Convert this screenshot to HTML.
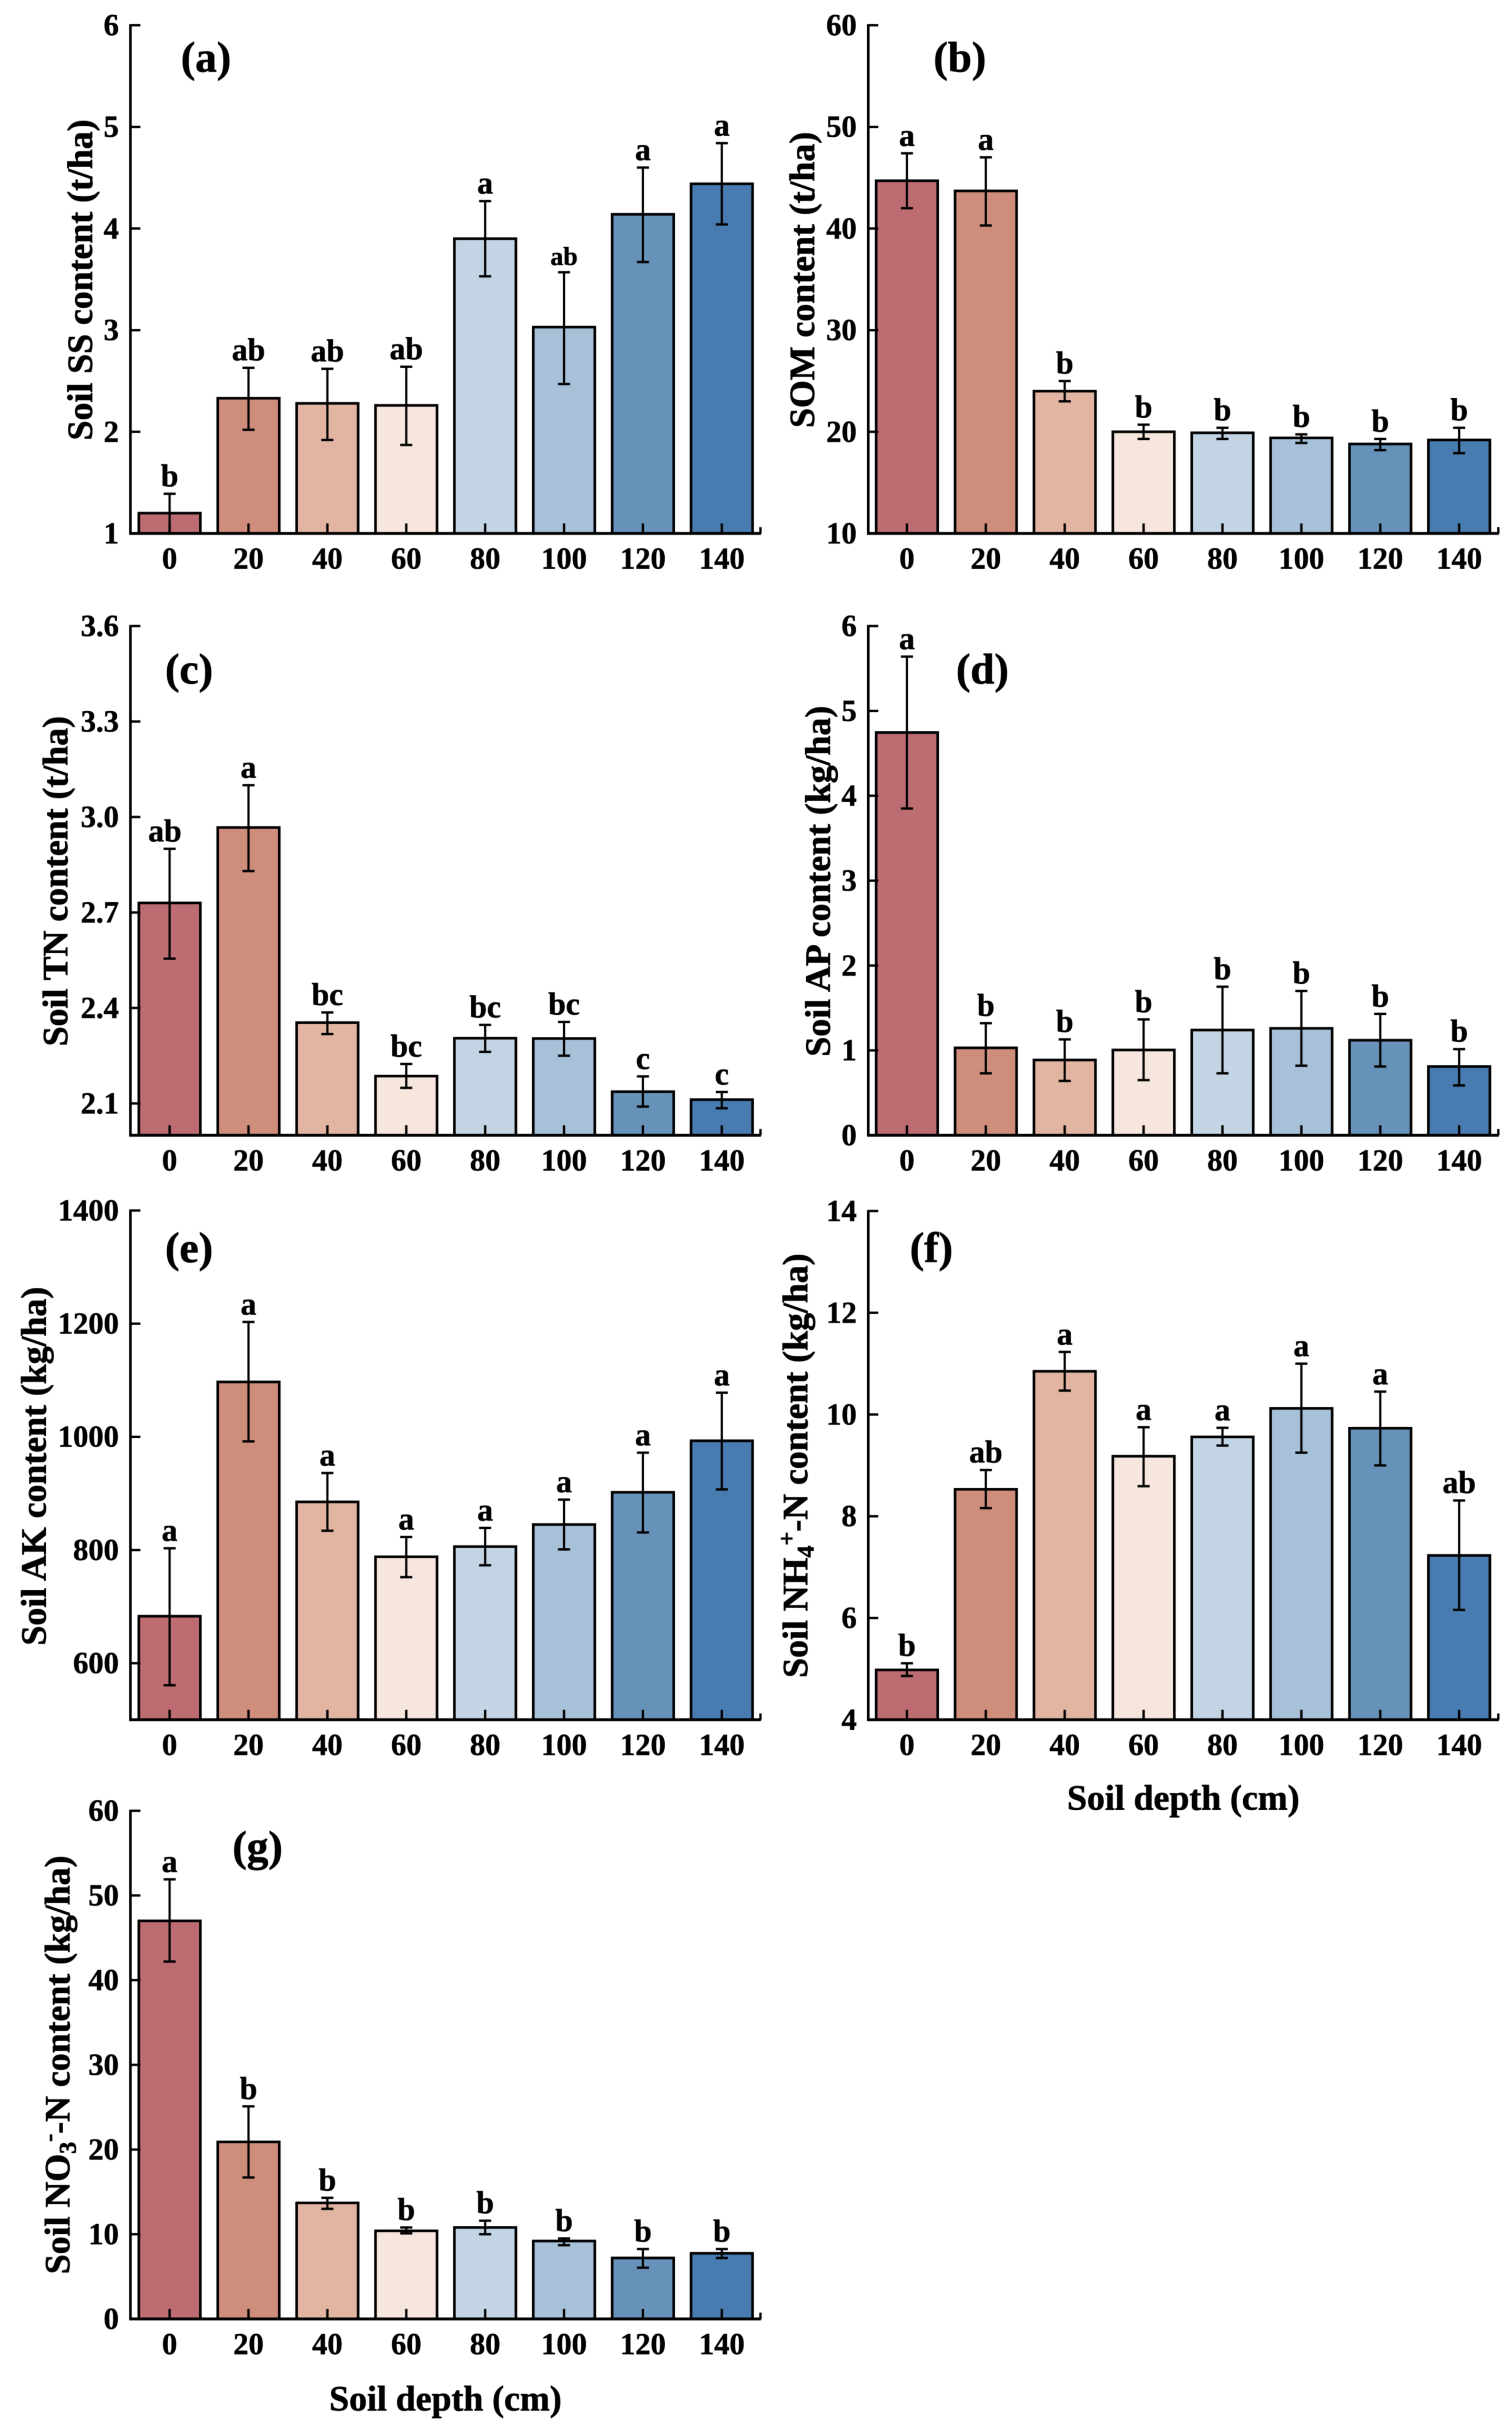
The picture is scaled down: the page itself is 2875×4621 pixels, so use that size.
<!DOCTYPE html>
<html lang="en">
<head>
<meta charset="utf-8">
<title>Soil properties by depth</title>
<style>
html,body{margin:0;padding:0;background:#fff;}
svg{display:block;filter:blur(0.6px);}
text{font-family:"Liberation Serif",serif;font-weight:bold;fill:#000;stroke:#000;stroke-width:0.8px;}
.axis-title{font-size:68px;text-anchor:middle;stroke-width:1px;}
.panel-label{font-size:82px;stroke-width:1px;}
</style>
</head>
<body>
<svg id="figure" xmlns="http://www.w3.org/2000/svg" width="2875" height="4621" viewBox="0 0 2875 4621">
  <rect x="0" y="0" width="2875" height="4621" fill="#fff"/>
  <g id="panel-a"></g>
  <g id="panel-b"></g>
  <g id="panel-c"></g>
  <g id="panel-d"></g>
  <g id="panel-e"></g>
  <g id="panel-f"></g>
  <g id="panel-g"></g>

  <text class="axis-title" transform="rotate(-90 175 532)" x="175" y="532">Soil SS content (t/ha)</text>
  <text class="axis-title" transform="rotate(-90 1548 532)" x="1548" y="532">SOM content (t/ha)</text>
  <text class="axis-title" transform="rotate(-90 128 1675)" x="128" y="1675">Soil TN content (t/ha)</text>
  <text class="axis-title" transform="rotate(-90 1578 1675)" x="1578" y="1675">Soil AP content (kg/ha)</text>
  <text class="axis-title" transform="rotate(-90 87 2787)" x="87" y="2787">Soil AK content (kg/ha)</text>
  <text class="axis-title" transform="rotate(-90 1535 2786)" x="1535" y="2786">Soil NH<tspan dy="12" font-size="46">4</tspan><tspan dy="-36" font-size="46">+</tspan><tspan dy="24">-N content (kg/ha)</tspan></text>
  <text class="axis-title" transform="rotate(-90 132 3925)" x="132" y="3925">Soil NO<tspan dy="12" font-size="46">3</tspan><tspan dy="-36" font-size="46">-</tspan><tspan dy="24">-N content (kg/ha)</tspan></text>

  <text class="axis-title" x="2250" y="3440">Soil depth (cm)</text>
  <text class="axis-title" x="847" y="4582">Soil depth (cm)</text>

  <text class="panel-label" x="344" y="136">(a)</text>
  <text class="panel-label" x="1775" y="136">(b)</text>
  <text class="panel-label" x="314" y="1299">(c)</text>
  <text class="panel-label" x="1818" y="1299">(d)</text>
  <text class="panel-label" x="314" y="2399">(e)</text>
  <text class="panel-label" x="1730" y="2399">(f)</text>
  <text class="panel-label" x="442" y="3537">(g)</text>
</svg>
<script>
// Categories shared by all panels
const depthCategories = ['0', '20', '40', '60', '80', '100', '120', '140'];

// Panel (a) Soil SS
const ssValues = [1.2, 2.33, 2.28, 2.26, 3.9, 3.03, 4.14, 4.44];
const ssUpper = [1.39, 2.63, 2.62, 2.64, 4.27, 3.57, 4.6, 4.84];
const ssLower = [1.0, 2.02, 1.92, 1.87, 3.53, 2.47, 3.67, 4.04];
const ssLetters = ['b', 'ab', 'ab', 'ab', 'a', 'ab', 'a', 'a'];
const ssTicks = [1, 2, 3, 4, 5, 6];
const ssTickLabels = ['1', '2', '3', '4', '5', '6'];

// Panel (b) SOM
const somValues = [44.7, 43.7, 24.0, 20.0, 19.9, 19.4, 18.8, 19.2];
const somUpper = [47.4, 47.0, 25.0, 20.7, 20.4, 19.75, 19.3, 20.4];
const somLower = [42.0, 40.3, 23.0, 19.3, 19.3, 18.9, 18.2, 17.9];
const somLetters = ['a', 'a', 'b', 'b', 'b', 'b', 'b', 'b'];
const somTicks = [10, 20, 30, 40, 50, 60];
const somTickLabels = ['10', '20', '30', '40', '50', '60'];

// Panel (c) Soil TN
const tnValues = [2.73, 2.967, 2.354, 2.186, 2.305, 2.304, 2.137, 2.112];
const tnUpper = [2.9, 3.1, 2.386, 2.224, 2.347, 2.356, 2.185, 2.136];
const tnLower = [2.555, 2.83, 2.318, 2.149, 2.262, 2.25, 2.09, 2.085];
const tnLetters = ['ab', 'a', 'bc', 'bc', 'bc', 'bc', 'c', 'c'];
const tnTicks = [2.1, 2.4, 2.7, 3.0, 3.3, 3.6];
const tnTickLabels = ['2.1', '2.4', '2.7', '3.0', '3.3', '3.6'];

// Panel (d) Soil AP
const apValues = [4.745, 1.03, 0.887, 1.005, 1.24, 1.26, 1.12, 0.81];
const apUpper = [5.64, 1.32, 1.13, 1.365, 1.75, 1.7, 1.43, 1.015];
const apLower = [3.85, 0.73, 0.64, 0.65, 0.73, 0.82, 0.81, 0.587];
const apLetters = ['a', 'b', 'b', 'b', 'b', 'b', 'b', 'b'];
const apTicks = [0, 1, 2, 3, 4, 5, 6];
const apTickLabels = ['0', '1', '2', '3', '4', '5', '6'];

// Panel (e) Soil AK
const akValues = [683, 1097, 885, 788, 806, 845, 902, 993];
const akUpper = [803, 1203, 936, 823, 839, 889, 972, 1078];
const akLower = [561, 992, 834, 752, 773, 801, 831, 907];
const akLetters = ['a', 'a', 'a', 'a', 'a', 'a', 'a', 'a'];
const akTicks = [600, 800, 1000, 1200, 1400];
const akTickLabels = ['600', '800', '1000', '1200', '1400'];

// Panel (f) Soil NH4+-N
const nhValues = [4.98, 8.53, 10.85, 9.18, 9.56, 10.12, 9.73, 7.23];
const nhUpper = [5.11, 8.91, 11.23, 9.75, 9.74, 11.0, 10.45, 8.31];
const nhLower = [4.86, 8.16, 10.47, 8.59, 9.39, 9.25, 9.0, 6.16];
const nhLetters = ['b', 'ab', 'a', 'a', 'a', 'a', 'a', 'ab'];
const nhTicks = [4, 6, 8, 10, 12, 14];
const nhTickLabels = ['4', '6', '8', '10', '12', '14'];

// Panel (g) Soil NO3--N
const noValues = [47.0, 20.9, 13.7, 10.4, 10.8, 9.2, 7.2, 7.75];
const noUpper = [51.9, 25.1, 14.3, 10.8, 11.6, 9.5, 8.25, 8.25];
const noLower = [42.2, 16.7, 13.0, 10.1, 10.0, 8.7, 6.05, 7.2];
const noLetters = ['a', 'b', 'b', 'b', 'b', 'b', 'b', 'b'];
const noTicks = [0, 10, 20, 30, 40, 50, 60];
const noTickLabels = ['0', '10', '20', '30', '40', '50', '60'];

const barColors = ['#BD6C72', '#CF8D7C', '#E2B4A2', '#F6E6DE', '#C3D5E4', '#A7C1D9', '#6792BA', '#487BB0'];

const SVG_NS = 'http://www.w3.org/2000/svg';

function makeLine(parent, x1, y1, x2, y2, width) {
  const el = document.createElementNS(SVG_NS, 'line');
  el.setAttribute('x1', x1);
  el.setAttribute('y1', y1);
  el.setAttribute('x2', x2);
  el.setAttribute('y2', y2);
  el.setAttribute('stroke', '#000');
  el.setAttribute('stroke-width', width);
  parent.appendChild(el);
  return el;
}

function makeText(parent, x, y, str, size, anchor) {
  const el = document.createElementNS(SVG_NS, 'text');
  el.setAttribute('x', x);
  el.setAttribute('y', y);
  el.setAttribute('font-size', size);
  el.setAttribute('text-anchor', anchor);
  el.textContent = str;
  parent.appendChild(el);
  return el;
}

function drawPanel(cfg) {
  const g = document.getElementById(cfg.id);
  const yScale = function (v) {
    return cfg.base - (v - cfg.min) / (cfg.max - cfg.min) * (cfg.base - cfg.top);
  };
  const xScale = function (i) {
    return cfg.axisX + cfg.firstOffset + i * 150;
  };
  const barW = 117;

  depthCategories.forEach(function (cat, i) {
    const cx = xScale(i);
    const rect = document.createElementNS(SVG_NS, 'rect');
    rect.setAttribute('x', cx - barW / 2);
    rect.setAttribute('y', yScale(cfg.values[i]));
    rect.setAttribute('width', barW);
    rect.setAttribute('height', cfg.base - yScale(cfg.values[i]));
    rect.setAttribute('fill', barColors[i]);
    rect.setAttribute('stroke', '#000');
    rect.setAttribute('stroke-width', 5);
    
    
    g.appendChild(rect);
  });

  const axisY = makeLine(g, cfg.axisX, cfg.top - 2, cfg.axisX, cfg.base + 2, 5);
  
  
  const axisX = makeLine(g, cfg.axisX - 2, cfg.base, cfg.axisX + cfg.axisLen, cfg.base, 5.5);
  
  
  const axisEnd = makeLine(g, cfg.axisX + cfg.axisLen - 1, cfg.base, cfg.axisX + cfg.axisLen - 1, cfg.base - 12, 4.5);
  
  

  cfg.ticks.forEach(function (t, i) {
    const ty = yScale(t);
    if (t !== cfg.min) {
      const tick = makeLine(g, cfg.axisX, ty, cfg.axisX + 19, ty, 4.5);
      
      
    }
    const label = makeText(g, cfg.axisX - 22, ty + 19, cfg.tickLabels[i], 58, 'end');
    
    
  });

  depthCategories.forEach(function (cat, i) {
    const cx = xScale(i);
    const tick = makeLine(g, cx, cfg.base, cx, cfg.base - 19, 4.5);
    
    
    const label = makeText(g, cx, cfg.base + 67, cat, 58, 'middle');
    
    

    const upY = yScale(cfg.upper[i]);
    const loY = yScale(cfg.lower[i]);
    const stem = makeLine(g, cx, upY, cx, loY, 4.2);
    
    
    const capTop = makeLine(g, cx - 11.5, upY, cx + 11.5, upY, 4.5);
    
    
    const capBot = makeLine(g, cx - 11.5, loY, cx + 11.5, loY, 4.5);
    
    

    const small = cfg.id === 'panel-a' && i === 5;
    const shift = (cfg.id === 'panel-c' && i === 0) ? -9 : 0;
    const sig = makeText(g, cx + shift, upY - 14, cfg.letters[i], small ? 49 : 60, 'middle');
    
    
  });
}

drawPanel({ id: 'panel-a', axisX: 248, firstOffset: 74.5, axisLen: 1199, top: 48, base: 1014, min: 1, max: 6, values: ssValues, upper: ssUpper, lower: ssLower, letters: ssLetters, ticks: ssTicks, tickLabels: ssTickLabels });
drawPanel({ id: 'panel-b', axisX: 1651, firstOffset: 73.5, axisLen: 1199, top: 48, base: 1014, min: 10, max: 60, values: somValues, upper: somUpper, lower: somLower, letters: somLetters, ticks: somTicks, tickLabels: somTickLabels });
drawPanel({ id: 'panel-c', axisX: 248, firstOffset: 74.5, axisLen: 1199, top: 1190, base: 2158, min: 2.0, max: 3.6, values: tnValues, upper: tnUpper, lower: tnLower, letters: tnLetters, ticks: tnTicks, tickLabels: tnTickLabels });
drawPanel({ id: 'panel-d', axisX: 1651, firstOffset: 73.5, axisLen: 1199, top: 1190, base: 2158, min: 0, max: 6, values: apValues, upper: apUpper, lower: apLower, letters: apLetters, ticks: apTicks, tickLabels: apTickLabels });
drawPanel({ id: 'panel-e', axisX: 248, firstOffset: 74.5, axisLen: 1199, top: 2301, base: 3269, min: 500, max: 1400, values: akValues, upper: akUpper, lower: akLower, letters: akLetters, ticks: akTicks, tickLabels: akTickLabels });
drawPanel({ id: 'panel-f', axisX: 1651, firstOffset: 73.5, axisLen: 1199, top: 2302, base: 3269, min: 4, max: 14, values: nhValues, upper: nhUpper, lower: nhLower, letters: nhLetters, ticks: nhTicks, tickLabels: nhTickLabels });
drawPanel({ id: 'panel-g', axisX: 248, firstOffset: 74.5, axisLen: 1199, top: 3442, base: 4408, min: 0, max: 60, values: noValues, upper: noUpper, lower: noLower, letters: noLetters, ticks: noTicks, tickLabels: noTickLabels });
</script>
</body>
</html>
